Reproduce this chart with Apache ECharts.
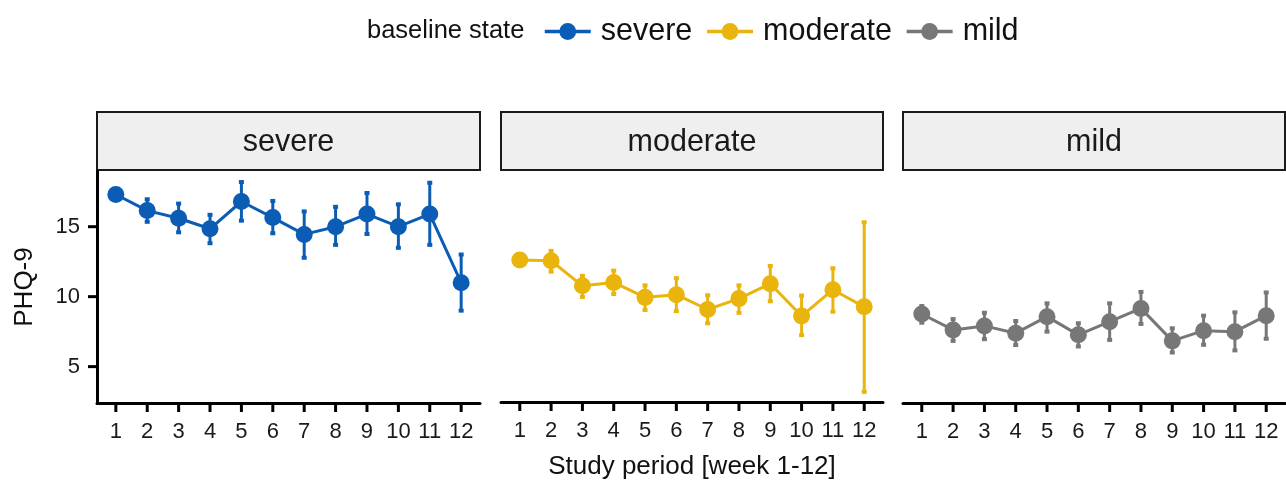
<!DOCTYPE html>
<html>
<head>
<meta charset="utf-8">
<script src="https://cdn.jsdelivr.net/npm/echarts@6/dist/echarts.min.js"></script>
<style>html,body{margin:0;padding:0;background:#fff}#chart{width:1286px;height:481px}</style>
</head>
<body>
<div id="chart"></div>
<script>
// ---- data ----
const weeks = [1,2,3,4,5,6,7,8,9,10,11,12];
const groups = ['severe','moderate','mild'];
const yTicks = [5,10,15];

const severeMean = [17.3,16.15,15.6,14.85,16.8,15.65,14.45,15.0,15.9,15.0,15.9,11.0];
const severeLow  = [17.0,15.35,14.6,13.82,15.43,14.53,12.78,13.7,14.48,13.49,13.7,9.0];
const severeHigh = [17.6,16.96,16.65,15.85,18.19,16.84,16.09,16.42,17.41,16.6,18.14,13.01];

const moderateMean = [12.59,12.54,10.74,10.98,9.91,10.1,9.04,9.82,10.89,8.57,10.46,9.23];
const moderateLow  = [12.5,11.76,9.94,10.15,9.0,8.92,8.05,8.8,9.63,7.2,8.88,3.13];
const moderateHigh = [12.7,13.25,11.45,11.83,10.77,11.29,10.06,10.77,12.16,10.04,12.0,15.3];

const mildMean = [8.76,7.62,7.91,7.39,8.57,7.27,8.21,9.16,6.84,7.57,7.5,8.64];
const mildLow  = [8.14,6.84,6.96,6.54,7.5,6.44,6.91,8.05,6.01,6.56,6.16,6.99];
const mildHigh = [9.33,8.4,8.85,8.26,9.52,8.1,9.52,10.34,7.74,8.64,8.88,10.3];

// ---- style / layout ----
const colors = ['#0B5CB4','#E9B50C','#777777'];
const FONT = '"Liberation Sans", Arial, sans-serif';
const panels = [{left:97,width:383},{left:501,width:382},{left:903,width:382}];
const gridTop = 171, gridBottom = 403;
const stripTop = 112, stripH = 58;
const X_MIN = 0.4, X_MAX = 12.6, Y_MIN = 2.4, Y_MAX = 18.98;
const TICK_LEN = 9;
const AXIS_W = 3;

const means = [severeMean, moderateMean, mildMean];
const lows = [severeLow, moderateLow, mildLow];
const highs = [severeHigh, moderateHigh, mildHigh];

const grids = panels.map(p => ({left:p.left, width:p.width, top:gridTop, height:gridBottom-gridTop}));

const xAxes = panels.map((p,i) => ({
  type:'value', gridIndex:i, min:X_MIN, max:X_MAX,
  axisLine:{show:true, onZero:false, lineStyle:{color:'#000', width:AXIS_W}},
  axisTick:{show:false},
  axisLabel:{show:true, customValues:weeks, color:'#1a1a1a', fontSize:22, fontFamily:FONT, margin:18},
  splitLine:{show:false},
  name: i===1 ? 'Study period [week 1-12]' : '',
  nameLocation:'middle', nameGap:52,
  nameTextStyle:{fontSize:26, color:'#111', fontFamily:FONT}
}));

const yAxes = panels.map((p,i) => ({
  type:'value', gridIndex:i, min:Y_MIN, max:Y_MAX,
  show: i===0,
  axisLine:{show:true, onZero:false, lineStyle:{color:'#000', width:AXIS_W}},
  axisTick:{show:false},
  axisLabel:{show:true, customValues:yTicks, color:'#1a1a1a', fontSize:22, fontFamily:FONT, margin:17},
  splitLine:{show:false},
  name: i===0 ? 'PHQ-9' : '',
  nameLocation:'middle', nameGap:59, nameRotate:90,
  nameTextStyle:{fontSize:26, color:'#111', fontFamily:FONT}
}));

const series = [];
groups.forEach((g,i) => {
  // axis tick marks, placed through the axis scales
  series.push({
    type:'custom', name:'xticks'+i, xAxisIndex:i, yAxisIndex:i, silent:true, z:5, clip:false,
    data: weeks.map(w => [w, Y_MIN]),
    renderItem: function(params, api){
      const c = api.coord([api.value(0), api.value(1)]);
      return {type:'line', shape:{x1:c[0], y1:c[1], x2:c[0], y2:c[1]+TICK_LEN}, style:{stroke:'#000', lineWidth:AXIS_W}};
    }
  });
  if (i === 0) {
    series.push({
      type:'custom', name:'yticks', xAxisIndex:0, yAxisIndex:0, silent:true, z:5, clip:false,
      data: yTicks.map(v => [X_MIN, v]),
      renderItem: function(params, api){
        const c = api.coord([api.value(0), api.value(1)]);
        return {type:'line', shape:{x1:c[0]-TICK_LEN, y1:c[1], x2:c[0], y2:c[1]}, style:{stroke:'#000', lineWidth:AXIS_W}};
      }
    });
  }
  const errData = weeks.map((w,k) => [w, lows[i][k], highs[i][k]]);
  series.push({
    type:'custom', name:g+' err', xAxisIndex:i, yAxisIndex:i, silent:true, z:2,
    data: errData,
    renderItem: function(params, api){
      const x = api.value(0);
      const lo = api.coord([x, api.value(1)]);
      const hi = api.coord([x, api.value(2)]);
      const cap = 2.5;
      const st = {stroke:colors[i], lineWidth:3};
      return {type:'group', children:[
        {type:'line', shape:{x1:lo[0], y1:lo[1], x2:hi[0], y2:hi[1]}, style:st},
        {type:'line', shape:{x1:lo[0]-cap, y1:lo[1], x2:lo[0]+cap, y2:lo[1]}, style:{stroke:colors[i], lineWidth:4}},
        {type:'line', shape:{x1:hi[0]-cap, y1:hi[1], x2:hi[0]+cap, y2:hi[1]}, style:{stroke:colors[i], lineWidth:4}}
      ]};
    }
  });
  series.push({
    type:'line', name:g, xAxisIndex:i, yAxisIndex:i, z:3,
    data: weeks.map((w,k) => [w, means[i][k]]),
    symbol:'circle', symbolSize:17, showSymbol:true,
    lineStyle:{color:colors[i], width:3},
    itemStyle:{color:colors[i]},
    animation:false
  });
});

const graphics = [];
panels.forEach((p,i) => {
  graphics.push({
    type:'rect', silent:true,
    shape:{x:p.left, y:stripTop, width:p.width, height:stripH},
    style:{fill:'#EFEFEF', stroke:'#1a1a1a', lineWidth:2}
  });
  graphics.push({
    type:'text', silent:true,
    x:p.left + p.width/2, y:stripTop + stripH/2 + 2,
    style:{text:groups[i], fill:'#1a1a1a', fontSize:30.5, fontFamily:FONT, align:'center', verticalAlign:'middle'}
  });
});

const option = {
  animation:false,
  backgroundColor:'#fff',
  title:{text:'baseline state', left:362, top:13, textStyle:{fontSize:25.5, fontWeight:'normal', color:'#111', fontFamily:FONT}},
  legend:{
    data:groups, left:538, top:11, itemWidth:46, itemHeight:21, itemGap:13,
    lineStyle:{width:3.5},
    textStyle:{fontSize:30.5, color:'#111', fontFamily:FONT, padding:[0,0,0,5]}
  },
  grid:grids, xAxis:xAxes, yAxis:yAxes, series:series, graphic:graphics
};

const chart = echarts.init(document.getElementById('chart'), null, {renderer:'canvas'});
chart.setOption(option);
</script>
</body>
</html>
